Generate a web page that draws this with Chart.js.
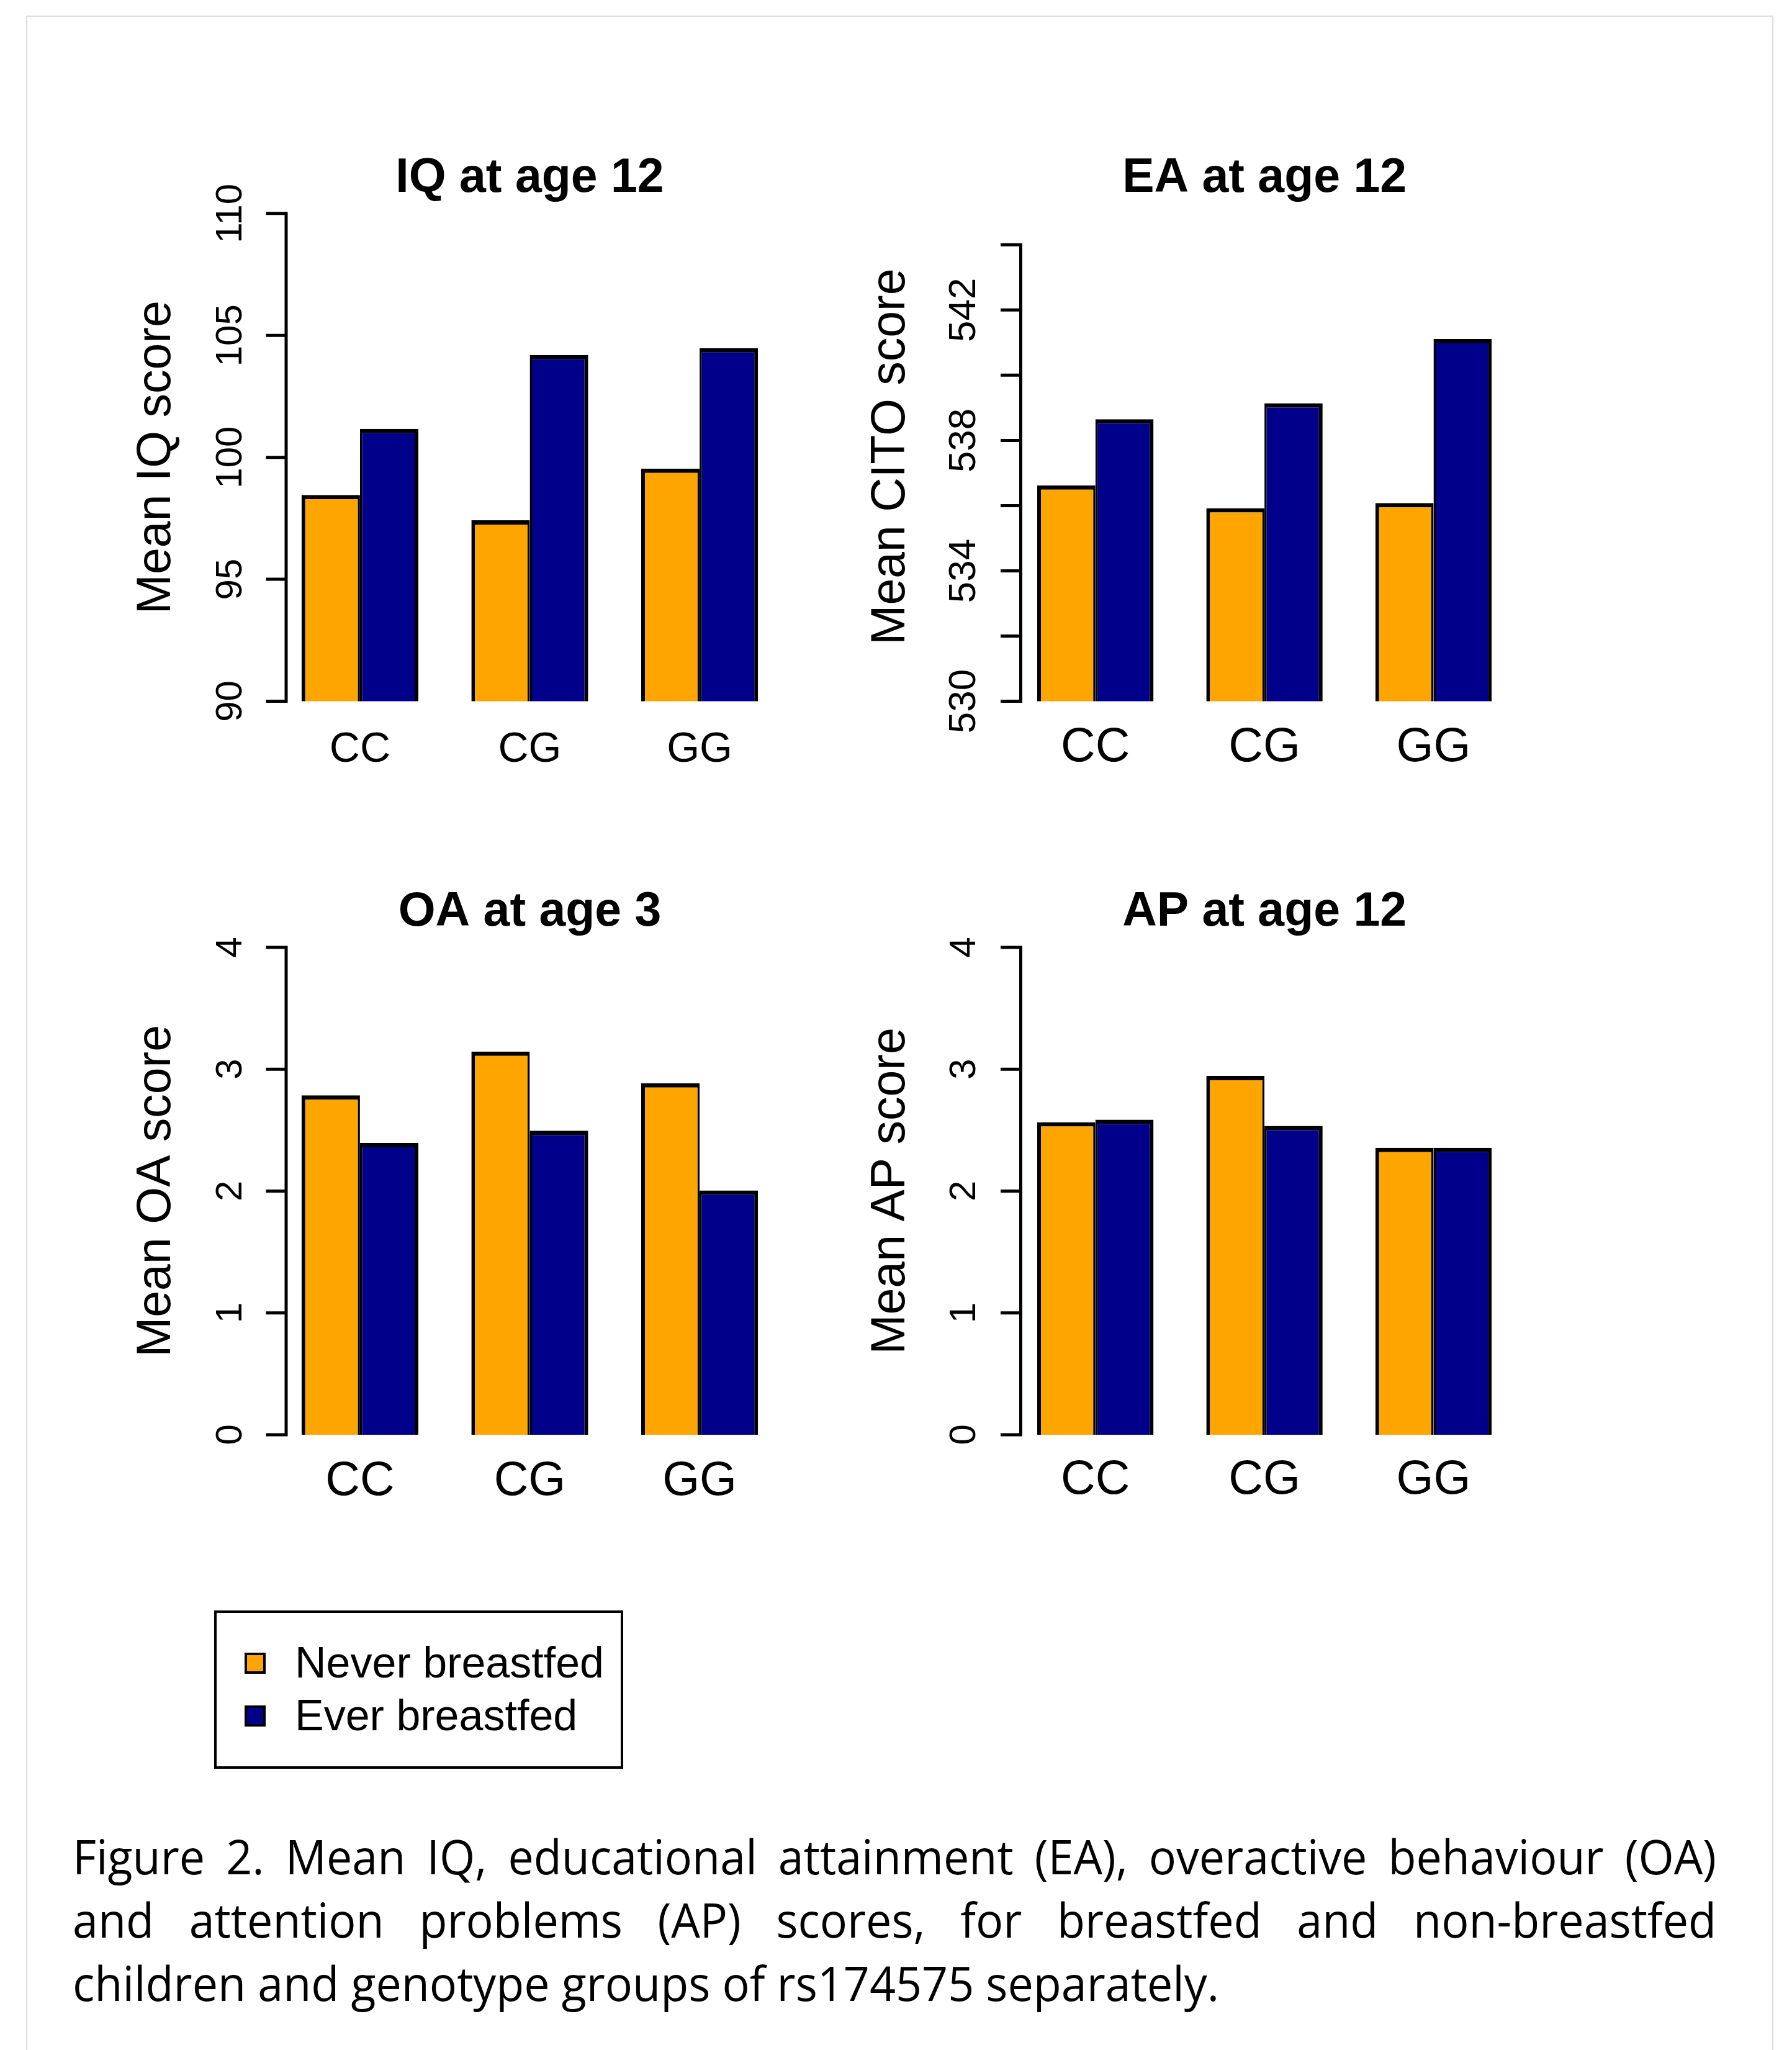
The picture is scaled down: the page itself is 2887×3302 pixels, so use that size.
<!DOCTYPE html>
<html>
<head>
<meta charset="utf-8">
<title>Figure 2</title>
<script src="https://cdn.jsdelivr.net/npm/chart.js@4.4.1/dist/chart.umd.min.js"></script>
<style>
  html, body { margin: 0; padding: 0; background: #fff; }
  body { width: 2887px; height: 3302px; position: relative; overflow: hidden;
         font-family: "Liberation Sans", Arial, Helvetica, sans-serif; }
  #frame { position: absolute; left: 42px; top: 25px; width: 2811px; height: 3400px;
           border: 2px solid #dcdcdc; border-bottom: none; }
  canvas { position: absolute; }
  #legend { position: absolute; left: 345px; top: 2594px; width: 659px; height: 255px;
            box-sizing: border-box; border: 4px solid #000; background: #fff; }
  #legend .swatch { position: absolute; width: 34px; height: 34px; box-sizing: border-box;
                    border: 4px solid #000; }
  #legend .name { position: absolute; font-size: 70px; line-height: 70px; white-space: nowrap; color: #000; }
  .capline { position: absolute; left: 117px; font-family: "Open Sans", "Noto Sans", sans-serif;
             font-size: 76px; line-height: 102px; white-space: nowrap; color: #000;
             transform-origin: 0 0; }
</style>
</head>
<body>
<div id="frame"></div>
<canvas id="chartIQ"></canvas>
<canvas id="chartEA"></canvas>
<canvas id="chartOA"></canvas>
<canvas id="chartAP"></canvas>
<div id="legend"></div>
<div id="caption"></div>

<script>
// datos
const genotypes = ["CC", "CG", "GG"];
const seriesNames = ["Never breastfed", "Ever breastfed"];
const seriesColors = ["#FFA500", "#00008B"];

const iqNever = [98.46, 97.42, 99.54];
const iqEver = [101.17, 104.2, 104.48];
const iqTicks = [90, 95, 100, 105, 110];
const iqTickLabels = [90, 95, 100, 105, 110];

const eaNever = [536.62, 535.92, 536.08];
const eaEver = [538.65, 539.14, 541.11];
const eaTicks = [530, 532, 534, 536, 538, 540, 542, 544];
const eaTickLabels = [530, 534, 538, 542];

const oaNever = [2.785, 3.145, 2.885];
const oaEver = [2.395, 2.495, 2.005];
const oaTicks = [0, 1, 2, 3, 4];
const oaTickLabels = [0, 1, 2, 3, 4];

const apNever = [2.565, 2.945, 2.355];
const apEver = [2.585, 2.535, 2.355];
const apTicks = [0, 1, 2, 3, 4];
const apTickLabels = [0, 1, 2, 3, 4];

const captionLines = [
  "Figure 2. Mean IQ, educational attainment (EA), overactive behaviour (OA)",
  "and attention problems (AP) scores, for breastfed and non-breastfed",
  "children and genotype groups of rs174575 separately."
];

const fontFamily = '"Liberation Sans", Arial, Helvetica, sans-serif';

// posiciones de cada panel en la pagina
const geoIQ = { L: 443.1, R: 1263.9, T: 343.8, B: 1129.5, titleY: 287.7, catY: 1208, yTitleX: 252.6,
  axisX: 461, tickLabelX: 372, titleSize: 77, axisTitleSize: 77, tickSize: 60, catSize: 68 };
const geoEA = { L: 1628.5, R: 2445.7, T: 341.8, B: 1129.5, titleY: 287.7, catY: 1205, yTitleX: 1436,
  axisX: 1644.5, tickLabelX: 1554, titleSize: 77, axisTitleSize: 77, tickSize: 62, catSize: 77 };
const geoOA = { L: 443.1, R: 1263.9, T: 1525.9, B: 2310.9, titleY: 1469.8, catY: 2386.7, yTitleX: 252.6,
  axisX: 461, tickLabelX: 372, titleSize: 77, axisTitleSize: 77, tickSize: 60, catSize: 77 };
const geoAP = { L: 1628.5, R: 2445.7, T: 1525.9, B: 2310.9, titleY: 1469.8, catY: 2385, yTitleX: 1436,
  axisX: 1644.5, tickLabelX: 1554, titleSize: 77, axisTitleSize: 77, tickSize: 60, catSize: 77 };

// eje y estilo R: linea, marcas y etiquetas giradas
const rAxisPlugin = {
  id: "rAxis",
  afterDraw(chart, args, opts) {
    const ctx = chart.ctx;
    const yScale = chart.scales.y;
    const x0 = chart.chartArea.left + opts.gap;
    const yTop = yScale.getPixelForValue(opts.ticks[opts.ticks.length - 1]);
    const yBottom = yScale.getPixelForValue(opts.ticks[0]);

    ctx.save();
    ctx.strokeStyle = "#000";
    ctx.lineWidth = opts.lineWidth;
    ctx.lineCap = "square";
    ctx.beginPath();
    ctx.moveTo(x0, yBottom);
    ctx.lineTo(x0, yTop);
    opts.ticks.forEach((v) => {
      const py = yScale.getPixelForValue(v);
      ctx.moveTo(x0, py);
      ctx.lineTo(x0 - opts.tickLen, py);
    });
    ctx.stroke();

    ctx.fillStyle = "#000";
    ctx.font = opts.fontSize + "px " + fontFamily;
    ctx.textAlign = "center";
    ctx.textBaseline = "middle";
    opts.labels.forEach((v) => {
      const py = yScale.getPixelForValue(v);
      ctx.save();
      ctx.translate(x0 - opts.labelOffset, py);
      ctx.rotate(-Math.PI / 2);
      ctx.fillText(String(v), 0, 0);
      ctx.restore();
    });
    ctx.restore();
  },
};

function makeChart(id, geo, title, yTitle, never, ever, yMin, yMax, ticks, tickLabels) {
  const canvas = document.getElementById(id);
  const cx = Math.floor(geo.yTitleX - geo.axisTitleSize / 2) - 10;
  const cy = Math.floor(geo.titleY - geo.titleSize / 2) - 10;
  const cw = Math.ceil(geo.R) + 20 - cx;
  const ch = Math.ceil(geo.catY + geo.catSize) + 20 - cy;
  const xHeight = geo.catY - geo.B + geo.catSize;

  canvas.width = cw;
  canvas.height = ch;
  canvas.style.left = cx + "px";
  canvas.style.top = cy + "px";

  return new Chart(canvas, {
    type: "bar",
    data: {
      labels: genotypes,
      datasets: [
        {
          label: seriesNames[0],
          data: never,
          backgroundColor: seriesColors[0],
          borderColor: "#000",
          borderWidth: { top: 7, left: 6, right: 3.5, bottom: 0 },
          borderSkipped: false,
        },
        {
          label: seriesNames[1],
          data: ever,
          backgroundColor: seriesColors[1],
          borderColor: "#000",
          borderWidth: { top: 7, left: 3.5, right: 6, bottom: 0 },
          borderSkipped: false,
        },
      ],
    },
    options: {
      responsive: false,
      animation: false,
      events: [],
      devicePixelRatio: 1,
      layout: {
        padding: { left: 0, top: 0, right: cx + cw - geo.R, bottom: cy + ch - geo.B - xHeight },
      },
      datasets: { bar: { barPercentage: 1, categoryPercentage: 0.688 } },
      scales: {
        x: {
          grid: { display: false, drawTicks: false },
          border: { display: false },
          ticks: {
            color: "#000",
            autoSkip: false,
            maxRotation: 0,
            font: { family: fontFamily, size: geo.catSize, lineHeight: 1 },
            padding: geo.catY - geo.B - geo.catSize / 2,
          },
          afterFit: (s) => { s.height = xHeight; },
        },
        y: {
          min: yMin,
          max: yMax,
          grid: { display: false, drawTicks: false },
          border: { display: false },
          ticks: { display: false },
          title: {
            display: true,
            text: yTitle,
            color: "#000",
            font: { family: fontFamily, size: geo.axisTitleSize, lineHeight: 1 },
            padding: { top: geo.yTitleX - geo.axisTitleSize / 2 - cx, bottom: 0 },
          },
          afterFit: (s) => { s.width = geo.L - cx; },
        },
      },
      plugins: {
        legend: { display: false },
        tooltip: { enabled: false },
        title: {
          display: true,
          text: title,
          color: "#000",
          fullSize: false,
          font: { family: fontFamily, size: geo.titleSize, weight: "bold", lineHeight: 1 },
          padding: {
            top: geo.titleY - geo.titleSize / 2 - cy,
            bottom: geo.T - geo.titleY - geo.titleSize / 2,
          },
        },
        rAxis: {
          ticks: ticks,
          labels: tickLabels,
          gap: geo.axisX - geo.L,
          labelOffset: geo.axisX - geo.tickLabelX,
          tickLen: 30,
          lineWidth: 5,
          fontSize: geo.tickSize,
        },
      },
    },
    plugins: [rAxisPlugin],
  });
}

makeChart("chartIQ", geoIQ, "IQ at age 12", "Mean IQ score", iqNever, iqEver, 90, 110, iqTicks, iqTickLabels);
makeChart("chartEA", geoEA, "EA at age 12", "Mean CITO score", eaNever, eaEver, 530, 545, eaTicks, eaTickLabels);
makeChart("chartOA", geoOA, "OA at age 3", "Mean OA score", oaNever, oaEver, 0, 4, oaTicks, oaTickLabels);
makeChart("chartAP", geoAP, "AP at age 12", "Mean AP score", apNever, apEver, 0, 4, apTicks, apTickLabels);

// leyenda
const legendBox = document.getElementById("legend");
seriesNames.forEach((name, i) => {
  const sw = document.createElement("div");
  sw.className = "swatch";
  sw.style.background = seriesColors[i];
  sw.style.left = "45px";
  sw.style.top = (64 + i * 85) + "px";
  legendBox.appendChild(sw);

  const txt = document.createElement("div");
  txt.className = "name";
  txt.textContent = name;
  txt.style.left = "126px";
  txt.style.top = (45 + i * 85) + "px";
  legendBox.appendChild(txt);
});

// pie de figura, justificado
const captionBox = document.getElementById("caption");
const capWidth = 2648;
const lastLineWidth = 1847;
const capEls = captionLines.map((line, i) => {
  const el = document.createElement("div");
  el.className = "capline";
  el.style.top = (2939 + i * 102) + "px";
  const span = document.createElement("span");
  span.textContent = line;
  el.appendChild(span);
  captionBox.appendChild(el);
  return { el, span, line };
});
const sx = lastLineWidth / capEls[2].span.getBoundingClientRect().width;
capEls.forEach((c, i) => {
  c.el.style.transform = "scaleX(" + sx + ")";
  if (i < 2) {
    const natural = c.span.getBoundingClientRect().width / sx;
    const spaces = c.line.split(" ").length - 1;
    c.el.style.wordSpacing = ((capWidth / sx - natural) / spaces) + "px";
  }
});
</script>
</body>
</html>
